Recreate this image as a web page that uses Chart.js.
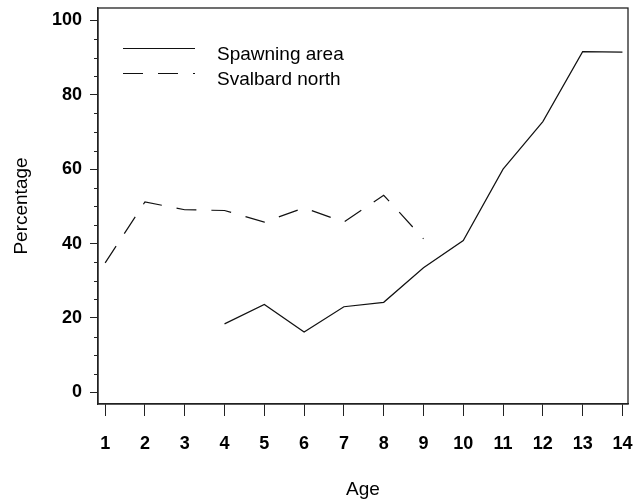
<!DOCTYPE html>
<html>
<head>
<meta charset="utf-8">
<script src="https://cdn.jsdelivr.net/npm/chart.js@4.4.1/dist/chart.umd.min.js"></script>
<style>
  html, body { margin: 0; padding: 0; background: #fff; }
  #wrap { width: 633px; height: 502px; }
</style>
</head>
<body>
<div id="wrap"><canvas id="c" width="633" height="502"></canvas></div>
<script>
// Age classes on the x axis
const ages = [1, 2, 3, 4, 5, 6, 7, 8, 9, 10, 11, 12, 13, 14];
// Percentage by age, spawning area (no data for ages 1-3)
const spawningArea = [null, null, null, 18.4, 23.6, 16.2, 23.0, 24.2, 33.5, 40.8, 60.0, 72.8, 91.6, 91.5];
// Percentage by age, Svalbard north (no data after age 9)
const svalbardNorth = [34.8, 51.2, 49.1, 48.9, 45.8, 49.6, 45.8, 53.0, 41.3, null, null, null, null, null];
// Labelled y ticks and the minor ticks between them
const yMajorTicks = [0, 20, 40, 60, 80, 100];
const yMinorTicks = [5, 10, 15, 25, 30, 35, 45, 50, 55, 65, 70, 75, 85, 90, 95];
const seriesNames = ['Spawning area', 'Svalbard north'];

const INK = '#111';
const FONT = "'Liberation Sans', Arial, Helvetica, sans-serif";

// Frame around the plot, minor y ticks and the in-plot legend
const decorations = {
  id: 'decorations',
  afterDraw(chart) {
    const { ctx, chartArea: a, scales } = chart;
    ctx.save();
    ctx.strokeStyle = '#222';
    ctx.lineWidth = 1.3;
    ctx.strokeRect(a.left, a.top, a.right - a.left, a.bottom - a.top);

    // minor ticks on the y axis
    ctx.lineWidth = 1;
    ctx.beginPath();
    yMinorTicks.forEach(v => {
      const y = Math.round(scales.y.getPixelForValue(v)) + 0.5;
      ctx.moveTo(a.left - 4, y);
      ctx.lineTo(a.left, y);
    });
    ctx.stroke();

    // legend
    const x0 = 123, x1 = 195, tx = 217;
    const rows = [48.5, 73.5];
    ctx.font = '19px ' + FONT;
    ctx.fillStyle = '#000';
    ctx.textBaseline = 'alphabetic';
    chart.data.datasets.forEach((ds, i) => {
      ctx.save();
      ctx.strokeStyle = ds.borderColor;
      ctx.lineWidth = ds.borderWidth;
      ctx.setLineDash(ds.borderDash || []);
      ctx.beginPath();
      ctx.moveTo(x0, rows[i]);
      ctx.lineTo(x1, rows[i]);
      ctx.stroke();
      ctx.restore();
      ctx.fillText(ds.label, tx, rows[i] + 11.5);
    });
    ctx.restore();
  }
};

new Chart(document.getElementById('c'), {
  type: 'line',
  data: {
    labels: ages,
    datasets: [
      {
        label: seriesNames[0],
        data: spawningArea,
        borderColor: INK,
        borderWidth: 1.2,
        pointRadius: 0,
        tension: 0,
        fill: false
      },
      {
        label: seriesNames[1],
        data: svalbardNorth,
        borderColor: INK,
        borderWidth: 1.2,
        borderDash: [20, 15],
        pointRadius: 0,
        tension: 0,
        fill: false
      }
    ]
  },
  options: {
    responsive: false,
    animation: false,
    devicePixelRatio: 1,
    layout: { padding: { top: 8, right: 5, left: 0, bottom: 0 } },
    plugins: {
      legend: { display: false },
      tooltip: { enabled: false }
    },
    scales: {
      x: {
        type: 'linear',
        min: 0.82,
        max: 14.14,
        afterBuildTicks(scale) { scale.ticks = ages.map(v => ({ value: v })); },
        afterFit(scale) {
          scale.height = 98;
          scale.paddingLeft = 0;
          scale.paddingRight = 0;
        },
        grid: {
          drawOnChartArea: false,
          drawTicks: true,
          tickLength: 12,
          tickColor: '#222',
          tickWidth: 1
        },
        border: { display: true, color: '#222', width: 1.3 },
        ticks: {
          color: '#000',
          font: { family: FONT, size: 18, weight: 'bold' },
          padding: 17,
          maxRotation: 0,
          autoSkip: false
        },
        title: {
          display: true,
          text: 'Age',
          color: '#000',
          font: { family: FONT, size: 19 },
          padding: { top: 0, bottom: 1 }
        }
      },
      y: {
        type: 'linear',
        min: -3.15,
        max: 103.36,
        afterBuildTicks(scale) { scale.ticks = yMajorTicks.map(v => ({ value: v })); },
        afterFit(scale) {
          scale.width = 98;
          scale.paddingTop = 0;
          scale.paddingBottom = 0;
        },
        grid: {
          drawOnChartArea: false,
          drawTicks: true,
          tickLength: 8,
          tickColor: '#222',
          tickWidth: 1
        },
        border: { display: true, color: '#222', width: 1.3 },
        ticks: {
          color: '#000',
          font: { family: FONT, size: 18, weight: 'bold' },
          padding: 8
        },
        title: {
          display: true,
          text: 'Percentage',
          color: '#000',
          font: { family: FONT, size: 19 },
          padding: { top: 10, bottom: 0 }
        }
      }
    }
  },
  plugins: [decorations]
});
</script>
</body>
</html>
